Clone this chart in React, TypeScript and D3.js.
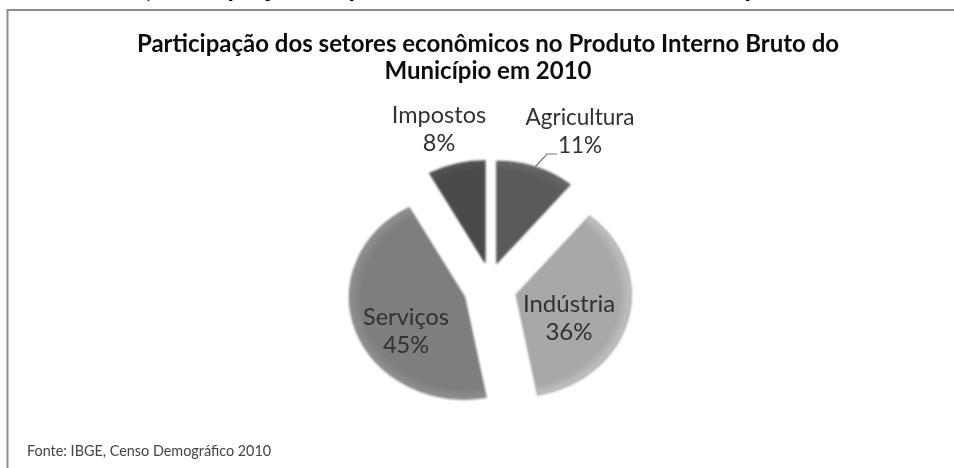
import { useEffect, useRef } from 'react';
import * as d3 from 'd3';

const sectors = ['Agricultura', 'Indústria', 'Serviços', 'Impostos'];
const shares = [11, 36, 45, 8];
const exploded = [20, 27, 27, 20];
const sliceColors = ['#5a5a5a', '#a8a8a8', '#7e7e7e', '#4a4a4a'];
const titleLines = [
  'Participação dos setores econômicos no Produto Interno Bruto do',
  'Município em 2010',
];
const sourceNote = 'Fonte: IBGE, Censo Demográfico 2010';
// bottoms of the heading above the chart, the crop cuts the rest away
const cutOffGlyphs = ['(', 'p', 'ç', 'p', 'p'];
const cutOffX = [147, 235, 267, 356, 752];

const width = 954;
const height = 468;
const center = { x: 490, y: 282 };
const lowerDrop = 6; // lower slices sit a bit further down, the pie is tilted
const rx = 115;
const ry = 102;

const App = () => {
  const ref = useRef<SVGSVGElement | null>(null);

  useEffect(() => {
    const svg = d3.select(ref.current);
    svg.selectAll('*').remove();

    const defs = svg.append('defs');
    defs
      .append('filter')
      .attr('id', 'soft')
      .append('feGaussianBlur')
      .attr('stdDeviation', 0.8);
    defs
      .append('filter')
      .attr('id', 'softText')
      .append('feGaussianBlur')
      .attr('stdDeviation', 0.45);

    sliceColors.forEach((c, i) => {
      const grad = defs
        .append('radialGradient')
        .attr('id', 'slice' + i)
        .attr('gradientUnits', 'userSpaceOnUse')
        .attr('cx', 0)
        .attr('cy', 0)
        .attr('r', ry);
      grad.append('stop').attr('offset', '90%').attr('stop-color', c);
      grad
        .append('stop')
        .attr('offset', '100%')
        .attr('stop-color', d3.color(c)!.brighter(0.4).formatHex());
    });

    // frame of the chart, only top and left are visible in the crop
    svg
      .append('path')
      .attr('d', `M7.5,${height}V10H${width}`)
      .attr('fill', 'none')
      .attr('stroke', '#8c8c8c')
      .attr('stroke-width', 2);

    const pie = d3
      .pie<number>()
      .sort(null)
      .value((d) => d);
    const arc = d3.arc<d3.PieArcDatum<number>>().innerRadius(0).outerRadius(ry);

    const slices = svg
      .append('g')
      .attr('filter', 'url(#soft)')
      .selectAll('g')
      .data(pie(shares))
      .enter()
      .append('g')
      .attr('transform', (d, i) => {
        const mid = (d.startAngle + d.endAngle) / 2;
        const x = center.x + exploded[i] * Math.sin(mid);
        const y = center.y - exploded[i] * Math.cos(mid) + (Math.cos(mid) < 0 || i === 2 ? lowerDrop : 0);
        return `translate(${x},${y}) scale(${rx / ry},1)`;
      });

    slices
      .append('path')
      .attr('d', arc)
      .attr('fill', (d, i) => `url(#slice${i})`)
      .attr('stroke', (d, i) => d3.color(sliceColors[i])!.darker(0.3).formatHex())
      .attr('stroke-width', 1);

    // leader line from Agricultura slice to its label
    svg
      .append('path')
      .attr('d', 'M535,167L547,154H557')
      .attr('fill', 'none')
      .attr('stroke', '#777')
      .attr('stroke-width', 1.2);

    const text = svg.append('g').attr('filter', 'url(#softText)');

    text
      .selectAll('.cut')
      .data(cutOffGlyphs)
      .enter()
      .append('text')
      .attr('class', 'cut')
      .attr('x', (d, i) => cutOffX[i])
      .attr('y', -3)
      .attr('text-anchor', 'middle')
      .attr('font-family', 'Lato')
      .attr('font-weight', 700)
      .attr('font-size', 26)
      .attr('fill', '#000')
      .text((d) => d);

    text
      .selectAll('.title')
      .data(titleLines)
      .enter()
      .append('text')
      .attr('class', 'title')
      .attr('x', 488)
      .attr('y', (d, i) => 52 + i * 27)
      .attr('text-anchor', 'middle')
      .attr('font-family', 'Lato')
      .attr('font-weight', 700)
      .attr('font-size', 24)
      .attr('fill', '#111')
      .text((d) => d);

    const labelPos = [
      [580, 125],
      [569, 312],
      [406, 325],
      [439, 123],
    ];
    const labelSize = [22.5, 24, 23.5, 23.5];
    const labels = text
      .selectAll('.label')
      .data(sectors)
      .enter()
      .append('text')
      .attr('class', 'label')
      .attr('text-anchor', 'middle')
      .attr('font-family', 'Lato')
      .attr('font-size', (d, i) => labelSize[i])
      .attr('fill', '#303030');
    labels
      .append('tspan')
      .attr('x', (d, i) => labelPos[i][0])
      .attr('y', (d, i) => labelPos[i][1])
      .text((d) => d);
    labels
      .append('tspan')
      .attr('x', (d, i) => labelPos[i][0])
      .attr('y', (d, i) => labelPos[i][1] + 28)
      .text((d, i) => shares[i] + '%');

    text
      .append('text')
      .attr('x', 27)
      .attr('y', 456)
      .attr('font-family', 'Lato')
      .attr('font-size', 14.4)
      .attr('fill', '#444')
      .text(sourceNote);
  }, []);

  return (
    <svg
      ref={ref}
      width={width}
      height={height}
      style={{ position: 'absolute', left: 0, top: 0, background: '#fff' }}
    />
  );
};

export default App;
